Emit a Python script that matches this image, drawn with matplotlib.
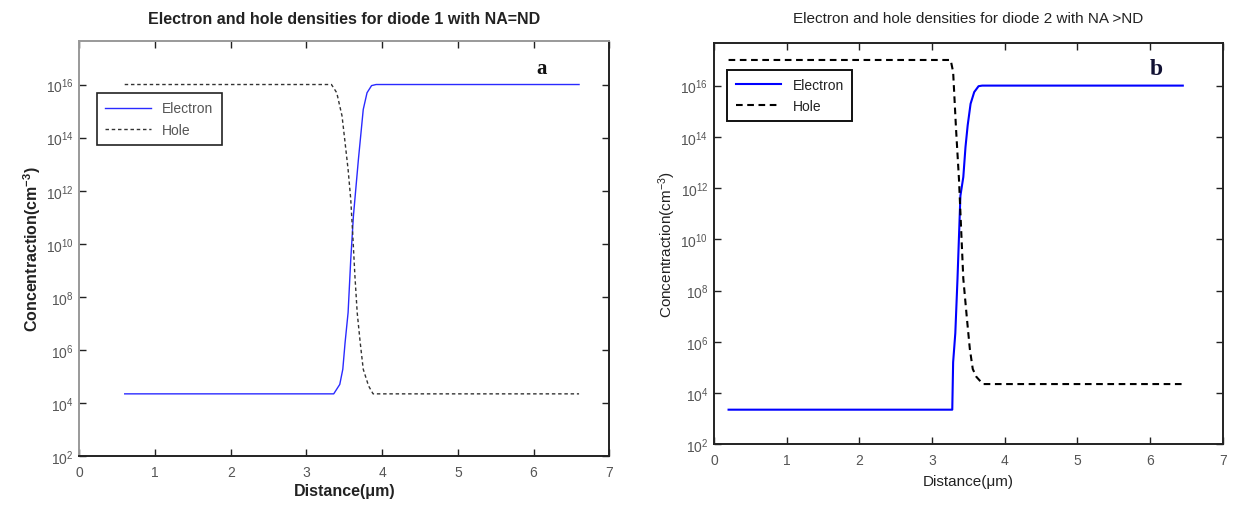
import numpy as np
import matplotlib
matplotlib.use("Agg")
import matplotlib.pyplot as plt
from matplotlib.ticker import FixedLocator, NullLocator

plt.rcParams['font.family'] = ['Liberation Sans', 'DejaVu Sans']
plt.rcParams['mathtext.fontset'] = 'custom'
plt.rcParams['mathtext.rm'] = 'Liberation Sans'
plt.rcParams['mathtext.it'] = 'Liberation Sans:italic'
plt.rcParams['mathtext.bf'] = 'Liberation Sans:bold'

# diode 1 (NA = ND)
x_elec1 = [0.6, 3.36, 3.44, 3.48, 3.51, 3.55, 3.585, 3.62, 3.655, 3.686, 3.72, 3.75, 3.80, 3.86, 3.92, 6.6]
n_elec1 = [2.25e4, 2.25e4, 5.1e4, 1.9e5, 1.9e6, 2.6e7, 2.6e9, 1.1e11, 1.5e12, 1.5e13, 1.5e14,
           1.15e15, 4.9e15, 9.1e15, 1e16, 1e16]
x_hole1 = [0.6, 3.33, 3.40, 3.47, 3.51, 3.55, 3.585, 3.61, 3.64, 3.67, 3.71, 3.75, 3.82, 3.88, 6.6]
n_hole1 = [1e16, 1e16, 4.9e15, 6.5e14, 6.5e13, 6.3e12, 4.7e11, 2.6e10, 6.2e8, 2.6e7, 1.9e6,
           1.9e5, 4.5e4, 2.25e4, 2.25e4]

# diode 2 (NA > ND)
x_elec2 = [0.2, 3.278, 3.29, 3.32, 3.35, 3.39, 3.43, 3.46, 3.49, 3.53, 3.58, 3.64, 3.69, 6.45]
n_elec2 = [2.25e3, 2.25e3, 1.6e5, 2.2e6, 2.9e8, 5e11, 2.7e12, 4e13, 2.8e14, 1.95e15, 5.6e15,
           9.5e15, 1e16, 1e16]
x_hole2 = [0.2, 3.256, 3.29, 3.33, 3.37, 3.40, 3.43, 3.48, 3.52, 3.56, 3.61, 3.70, 6.45]
n_hole2 = [1e17, 1e17, 3.4e16, 2e14, 2.3e12, 2.5e10, 2.9e8, 7.9e6, 5.2e5, 8.7e4, 4.3e4, 2.25e4, 2.25e4]

x_ticks = [0, 1, 2, 3, 4, 5, 6, 7]
y_ticks = [1e2, 1e4, 1e6, 1e8, 1e10, 1e12, 1e14, 1e16]

fig = plt.figure(figsize=(12.33, 5.06), dpi=100)
ax1 = fig.add_axes([0.0643, 0.0962, 0.4299, 0.8214])
ax2 = fig.add_axes([0.5791, 0.1199, 0.4126, 0.7925])


def style_axes(ax, grey_frame):
    ax.set_yscale('log')
    ax.set_xlim(0, 7)
    ax.set_ylim(1e2, 10 ** 17.65)
    ax.xaxis.set_major_locator(FixedLocator(x_ticks))
    ax.yaxis.set_major_locator(FixedLocator(y_ticks))
    ax.yaxis.set_minor_locator(NullLocator())
    ax.tick_params(direction='in', length=5, width=1, top=True, right=True,
                   labelcolor='#555555', colors='#222222')
    ax.tick_params(axis='x', labelsize=10, pad=6)
    ax.tick_params(axis='y', labelsize=10, pad=4)
    for s in ax.spines.values():
        s.set_linewidth(1.4)
        s.set_color('#222222')
    if grey_frame:
        ax.spines['left'].set_color('#999999')
        ax.spines['top'].set_color('#999999')


# left panel
style_axes(ax1, True)
ax1.plot(x_elec1, n_elec1, color='#2a2aff', lw=1.0, label='Electron')
ax1.plot(x_hole1, n_hole1, color='#333333', lw=1.0, ls=(0, (2.5, 2)), label='Hole')
ax1.set_title('Electron and hole densities for diode 1 with NA=ND', fontsize=11.5,
              fontweight='bold', color='#222222', pad=13)
ax1.set_xlabel('Distance(\u03bcm)', fontsize=11.5, fontweight='bold', color='#222222', labelpad=3)
ax1.set_ylabel('Concentraction(cm$^{\\mathbf{-3}}$)', fontsize=11.5, fontweight='bold',
               color='#222222', labelpad=2)
ax1.text(6.11, 10 ** 16.64, 'a', fontsize=15, fontweight='bold', family='Liberation Serif',
         ha='center', va='center', color='#111111')
leg1 = ax1.legend(loc='upper left', bbox_to_anchor=(0.0334, 0.874), borderaxespad=0,
                  fancybox=False, framealpha=1, edgecolor='#222222', fontsize=10,
                  handlelength=3.3, labelspacing=0.55, borderpad=0.6,
                  labelcolor='#555555')
leg1.get_frame().set_linewidth(1.2)

# right panel
style_axes(ax2, False)
ax2.plot(x_elec2, n_elec2, color='#0000ff', lw=1.5, label='Electron')
ax2.plot(x_hole2, n_hole2, color='black', lw=1.5, ls=(0, (3.2, 2.2)), label='Hole')
ax2.set_title('Electron and hole densities for diode 2 with NA >ND', fontsize=11,
              color='#222222', pad=15)
ax2.set_xlabel('Distance(\u03bcm)', fontsize=11, color='#222222', labelpad=5)
ax2.set_ylabel('Concentraction(cm$^{-3}$)', fontsize=11, color='#222222', labelpad=2)
ax2.text(6.09, 10 ** 16.66, 'b', fontsize=17, fontweight='bold', family='Liberation Serif',
         ha='center', va='center', color='#111133')
leg2 = ax2.legend(loc='upper left', bbox_to_anchor=(0.026, 0.934), borderaxespad=0,
                  fancybox=False, framealpha=1, edgecolor='#111111', fontsize=10,
                  handlelength=3.3, labelspacing=0.5, borderpad=0.6,
                  labelcolor='#222222')
leg2.get_frame().set_linewidth(1.4)

fig.savefig('out.png', dpi=100)
